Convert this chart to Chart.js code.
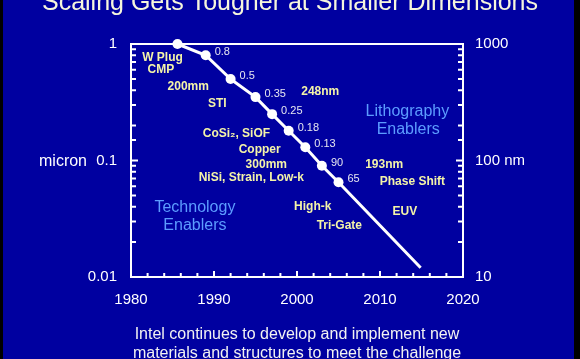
<!DOCTYPE html>
<html><head><meta charset="utf-8">
<style>html,body{margin:0;padding:0;background:#000;overflow:hidden}</style>
<script src="https://cdn.jsdelivr.net/npm/chart.js@4.4.1/dist/chart.umd.min.js"></script>
</head><body>
<canvas id="c" width="580" height="359"></canvas>
<script>
// ---- data ----
const years   = [1985.6, 1989, 1992, 1995, 1997, 1999, 2001, 2003, 2005, 2014.9];
const microns = [1.0, 0.8, 0.5, 0.35, 0.25, 0.18, 0.13, 0.09, 0.065, 0.012];
const nodeLabels = ['', '0.8', '0.5', '0.35', '0.25', '0.18', '0.13', '90', '65', ''];
const xTickYears = [1980, 1990, 2000, 2010, 2020];
const leftTickValues = [0.01, 0.1, 1];
const leftTickLabels = ['0.01', '0.1', '1'];
const rightTickValues = [10, 100, 1000];
const rightTickLabels = ['10', '100 nm', '1000'];
const yAxisName = 'micron';
const titleText = 'Scaling Gets Tougher at Smaller Dimensions';
const footerLines = ['Intel continues to develop and implement new', 'materials and structures to meet the challenge'];
// technology enablers (name, year anchor, micron anchor)
const techNames   = ['W Plug', 'CMP', '200mm', 'STI', 'CoSi\u2082, SiOF', 'Copper', '300mm', 'NiSi, Strain, Low-k', 'High-k', 'Tri-Gate'];
const techYears   = [1983.8, 1983.6, 1986.9, 1990.4, 1992.7, 1995.5, 1996.3, 1994.5, 2001.9, 2005.1];
const techMicrons = [0.758, 0.598, 0.428, 0.305, 0.169, 0.123, 0.0915, 0.0708, 0.0399, 0.0274];
// lithography enablers
const lithoNames   = ['248nm', '193nm', 'Phase Shift', 'EUV'];
const lithoYears   = [2002.8, 2010.5, 2013.9, 2013.0];
const lithoMicrons = [0.387, 0.0915, 0.0654, 0.0361];
// group captions
const groupNames   = ['Lithography', 'Enablers', 'Technology', 'Enablers'];
const groupYears   = [2013.3, 2013.4, 1987.7, 1987.7];
const groupMicrons = [0.261, 0.183, 0.0391, 0.0274];

const FONT = 'Liberation Sans, Arial, sans-serif';
const BLUE = '#0000a0';
const YELLOW = '#f4f4a8';
const LIGHTBLUE = '#5c9cff';

function isPow10(v){ const l = Math.log10(v); return Math.abs(l - Math.round(l)) < 1e-6; }
function findLabel(vals, labs, v){ const i = vals.findIndex(t => Math.abs(t - v) / t < 1e-6); return i >= 0 ? labs[i] : ''; }

const decor = {
  id: 'decor',
  beforeDraw(chart){
    const c = chart.ctx;
    c.save();
    c.fillStyle = '#000'; c.fillRect(0, 0, chart.width, chart.height);
    c.fillStyle = BLUE; c.fillRect(3, 0, 571, chart.height);
    c.restore();
  },
  beforeDatasetsDraw(chart){
    const c = chart.ctx, a = chart.chartArea;
    const sx = chart.scales.x, sy = chart.scales.y, sy2 = chart.scales.y2;
    c.save();
    c.strokeStyle = '#fff'; c.lineWidth = 2;
    c.strokeRect(a.left, a.top, a.right - a.left, a.bottom - a.top);
    c.lineWidth = 2;
    c.beginPath();
    sx.ticks.forEach(t => {
      if (t.value <= sx.min || t.value >= sx.max) return;
      const px = sx.getPixelForValue(t.value);
      const len = (t.value % 10 === 0) ? 6 : 4;
      c.moveTo(px, a.bottom); c.lineTo(px, a.bottom - len);
    });
    sy.ticks.forEach(t => {
      if (t.value <= sy.min * 1.0001 || t.value >= sy.max * 0.9999) return;
      const py = sy.getPixelForValue(t.value);
      c.moveTo(a.left, py); c.lineTo(a.left + (isPow10(t.value) ? 7 : 5), py);
    });
    sy2.ticks.forEach(t => {
      if (t.value <= sy2.min * 1.0001 || t.value >= sy2.max * 0.9999) return;
      const py = sy2.getPixelForValue(t.value);
      c.moveTo(a.right, py); c.lineTo(a.right - (isPow10(t.value) ? 7 : 5), py);
    });
    c.stroke();
    c.restore();
  },
  afterDatasetsDraw(chart){
    const c = chart.ctx, a = chart.chartArea;
    const sx = chart.scales.x, sy = chart.scales.y;
    c.save();
    // node labels
    const meta = chart.getDatasetMeta(0);
    c.font = '11px ' + FONT; c.fillStyle = '#e6e6f0'; c.textAlign = 'left'; c.textBaseline = 'middle';
    meta.data.forEach((pt, i) => { if (nodeLabels[i]) c.fillText(nodeLabels[i], pt.x + 9, pt.y - 3); });
    // enablers
    c.font = 'bold 12px ' + FONT; c.fillStyle = YELLOW; c.textAlign = 'center';
    techNames.forEach((n, i) => c.fillText(n, sx.getPixelForValue(techYears[i]), sy.getPixelForValue(techMicrons[i])));
    lithoNames.forEach((n, i) => c.fillText(n, sx.getPixelForValue(lithoYears[i]), sy.getPixelForValue(lithoMicrons[i])));
    c.font = '16px ' + FONT; c.fillStyle = LIGHTBLUE;
    groupNames.forEach((n, i) => c.fillText(n, sx.getPixelForValue(groupYears[i]), sy.getPixelForValue(groupMicrons[i])));
    // axis name
    c.font = '16px ' + FONT; c.fillStyle = '#fff'; c.textAlign = 'center';
    c.fillText(yAxisName, 63, sy.getPixelForValue(0.1) + 1);
    // title
    c.font = '25px ' + FONT; c.fillStyle = '#f6f6dc'; c.textAlign = 'center'; c.textBaseline = 'alphabetic';
    c.fillText(titleText, 290, 10);
    // footer
    c.font = '16px ' + FONT; c.fillStyle = '#f2f2f2';
    c.fillText(footerLines[0], 297, 339);
    c.fillText(footerLines[1], 297, 358);
    c.restore();
  }
};

const tickFont = { family: FONT, size: 15 };
new Chart(document.getElementById('c'), {
  type: 'line',
  data: {
    datasets: [{
      data: years.map((x, i) => ({ x: x, y: microns[i] })),
      borderColor: '#fff', borderWidth: 3,
      pointRadius: years.map((_, i) => nodeLabels[i] || i === 0 ? 5 : 0),
      pointBackgroundColor: '#fff', pointBorderWidth: 0,
      clip: false, tension: 0, yAxisID: 'y'
    }]
  },
  options: {
    responsive: false, animation: false, devicePixelRatio: 1,
    layout: { padding: { top: 44, left: 0, right: 0, bottom: 0 } },
    plugins: { legend: { display: false }, tooltip: { enabled: false }, title: { display: false } },
    scales: {
      x: {
        type: 'linear', min: 1980, max: 2020,
        ticks: { stepSize: 2, autoSkip: false, maxRotation: 0, color: '#fff', font: tickFont, padding: 14,
          callback: v => xTickYears.includes(v) ? String(v) : '' },
        grid: { display: false, drawTicks: false }, border: { display: false },
        afterFit: s => { s.height = 82; }
      },
      y: {
        type: 'logarithmic', position: 'left', min: 0.01, max: 1,
        ticks: { autoSkip: false, color: '#fff', font: tickFont, padding: 14,
          callback: v => findLabel(leftTickValues, leftTickLabels, v) },
        grid: { display: false, drawTicks: false }, border: { display: false },
        afterFit: s => { s.width = 131; }
      },
      y2: {
        type: 'logarithmic', position: 'right', min: 10, max: 1000,
        ticks: { autoSkip: false, color: '#fff', font: tickFont, padding: 12,
          callback: v => findLabel(rightTickValues, rightTickLabels, v) },
        grid: { display: false, drawTicks: false }, border: { display: false },
        afterFit: s => { s.width = 117; }
      }
    }
  },
  plugins: [decor]
});
</script>
</body></html>
